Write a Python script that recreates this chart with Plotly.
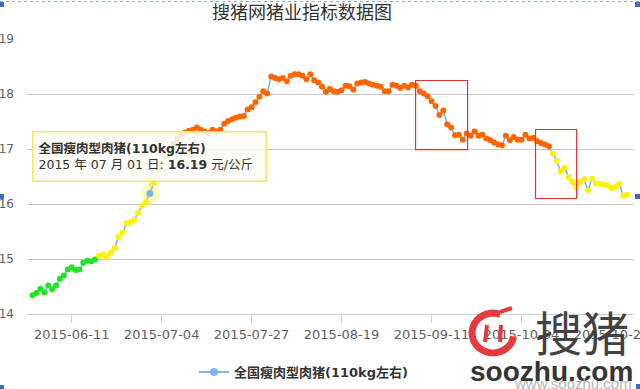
import math
import pandas as pd
import plotly.graph_objects as go

# ---------------- data ----------------
title_text = "搜猪网猪业指标数据图"
series_name = "全国瘦肉型肉猪(110kg左右)"
unit_text = "元/公斤"
start_date = "2015-06-01"

prices = [
    14.34, 14.38, 14.46, 14.39, 14.52, 14.45, 14.52, 14.64, 14.70, 14.81,
    14.85, 14.80, 14.81, 14.93, 14.97, 14.96, 14.99, 15.06, 15.08, 15.03,
    15.12, 15.20, 15.40, 15.48, 15.65, 15.67, 15.71, 15.84, 15.97, 16.03,
    16.19, 16.38, 16.59, 16.75, 16.88, 16.97, 17.10, 17.19, 17.27, 17.30,
    17.33, 17.35, 17.39, 17.35, 17.32, 17.29, 17.35, 17.32, 17.35, 17.46,
    17.51, 17.54, 17.57, 17.59, 17.60, 17.72, 17.76, 17.85, 17.95, 18.05,
    18.01, 18.32, 18.29, 18.27, 18.29, 18.23, 18.33, 18.36, 18.36, 18.33,
    18.27, 18.36, 18.25, 18.21, 18.13, 18.04, 18.09, 18.05, 18.04, 18.07,
    18.15, 18.14, 18.08, 18.19, 18.21, 18.22, 18.19, 18.17, 18.15, 18.13,
    18.05, 18.05, 18.17, 18.15, 18.11, 18.15, 18.12, 18.17, 18.15, 18.05,
    18.01, 17.96, 17.87, 17.78, 17.62, 17.70, 17.45, 17.39, 17.25, 17.26,
    17.17, 17.28, 17.24, 17.32, 17.24, 17.26, 17.19, 17.16, 17.12, 17.08,
    17.07, 17.24, 17.16, 17.22, 17.17, 17.17, 17.26, 17.19, 17.20, 17.14,
    17.11, 17.08, 17.05, 16.92, 16.78, 16.59, 16.66, 16.49, 16.40, 16.30,
    16.40, 16.45, 16.25, 16.46, 16.37, 16.37, 16.35, 16.34, 16.28, 16.31,
    16.37, 16.15, 16.17,
]
dates = pd.date_range(start_date, periods=len(prices), freq="D")

tick_dates = ["2015-06-11", "2015-07-04", "2015-07-27", "2015-08-19",
              "2015-09-11", "2015-10-04", "2015-10-27"]
tick_labels = ["2015-06-11", "2015-07-04", "2015-07-27", "2015-08-19",
               "2015-09-11", "2015-10-04", "2015-10-28"]
y_ticks = [14, 15, 16, 17, 18, 19]

zone_limits = [15, 17]
zone_colors = ["#1ee61e", "#fff200", "#ff6600"]
hover_index = 30

# highlighted ranges (red boxes)
box_ranges = [
    ("2015-09-06 22:00", "2015-09-20 05:00", 16.99, 18.245),
    ("2015-10-07 14:00", "2015-10-18 02:00", 16.10, 17.355),
]

# ---------------- layout helpers ----------------
W, H = 640, 389
ML, MR, MT, MB = 27, 6, 39, 75
PW, PH = W - ML - MR, H - MT - MB
MIXED_FONT = "DejaVu Sans, Noto Sans CJK SC"


def px(x):
    return (x - ML) / PW


def py(y):
    return (H - MB - y) / PH


def zone_color(v):
    if v < zone_limits[0]:
        return zone_colors[0]
    if v < zone_limits[1]:
        return zone_colors[1]
    return zone_colors[2]


marker_colors = [zone_color(v) for v in prices]
line_blue = "#7cb5ec"

fig = go.Figure()

fig.add_trace(go.Scatter(
    x=dates, y=prices, mode="lines",
    line=dict(color=line_blue, width=1.6),
    showlegend=False, hoverinfo="skip",
))
fig.add_trace(go.Scatter(
    x=dates, y=prices, mode="markers",
    marker=dict(color=marker_colors, size=6, line=dict(width=0)),
    showlegend=False, hoverinfo="skip",
))
# hovered point halo + marker
hx, hy = dates[hover_index], prices[hover_index]
fig.add_trace(go.Scatter(
    x=[hx], y=[hy], mode="markers",
    marker=dict(color="rgba(255,245,0,0.28)", size=19, line=dict(width=0)),
    showlegend=False, hoverinfo="skip",
))
fig.add_trace(go.Scatter(
    x=[hx], y=[hy], mode="markers",
    marker=dict(color=line_blue, size=7, line=dict(width=0)),
    showlegend=False, hoverinfo="skip",
))
# legend entry
fig.add_trace(go.Scatter(
    x=[None], y=[None], mode="lines+markers", name=series_name,
    line=dict(color=line_blue, width=2),
    marker=dict(color=line_blue, size=8),
))

shapes = []
for x0, x1, y0, y1 in box_ranges:
    shapes.append(dict(type="rect", xref="x", yref="y", x0=x0, x1=x1, y0=y0, y1=y1,
                       line=dict(color="rgb(225,50,50)", width=1.2),
                       fillcolor="rgba(0,0,0,0)", layer="above"))

# watermark red logo (approximate brush ring)
cx, cy, r = 493, 333, 21
pts = []
for k in range(0, 29):
    a = math.radians(70 + k * 10)
    pts.append((cx + r * math.cos(a), cy - r * 0.95 * math.sin(a)))
path = "M" + " L".join(f"{px(x):.4f},{py(y):.4f}" for x, y in pts)
shapes.append(dict(type="path", xref="paper", yref="paper", path=path,
                   line=dict(color="#e63a3f", width=7), layer="above"))
for (x0, y0, x1, y1) in [(487, 325, 485, 342), (501, 325, 500, 342), (500, 312, 512, 308)]:
    shapes.append(dict(type="line", xref="paper", yref="paper",
                       x0=px(x0), y0=py(y0), x1=px(x1), y1=py(y1),
                       line=dict(color="#e63a3f", width=4), layer="above"))

# selection handles and dotted top border
shapes.append(dict(type="line", xref="paper", yref="paper",
                   x0=px(0), x1=px(640), y0=py(1.5), y1=py(1.5),
                   line=dict(color="#8fb0d8", width=1, dash="dot"), layer="above"))
for (x0, y0, x1, y1) in [(0, 2, 4, 7), (0, 194, 4, 199), (635, 2, 640, 7),
                         (635, 194, 640, 199), (0, 385, 4, 389), (636, 384, 640, 389)]:
    shapes.append(dict(type="rect", xref="paper", yref="paper",
                       x0=px(x0), x1=px(x1), y0=py(y1), y1=py(y0),
                       line=dict(width=0), fillcolor="#3a6db5", layer="above"))

tooltip_text = (f"<b>{series_name}</b><br>"
                f"{hx.year} 年 {hx.month:02d} 月 {hx.day:02d} 日: "
                f"<b>{hy:.2f}</b> {unit_text}")

annotations = [
    dict(x=hx, y=hy, xref="x", yref="y", text=tooltip_text, showarrow=True,
         ax=0, ay=-37, arrowhead=0, arrowwidth=1.5, arrowcolor="rgb(238,230,80)",
         standoff=7, align="left", width=222, height=38, borderpad=5,
         bgcolor="rgba(252,252,246,0.86)", bordercolor="rgb(238,232,100)",
         borderwidth=1.5,
         font=dict(family=MIXED_FONT, size=12.5, color="#333333")),
    dict(x=px(582), y=py(330), xref="paper", yref="paper", text="搜猪",
         xanchor="center", yanchor="middle", showarrow=False,
         font=dict(family="Noto Sans CJK SC", size=47, color="#424242")),
    dict(x=px(551), y=py(371), xref="paper", yref="paper", text="<b>soozhu.com</b>",
         xanchor="center", yanchor="middle", showarrow=False,
         font=dict(family="Liberation Sans", size=28, color="#353535")),
    dict(x=px(573), y=py(384), xref="paper", yref="paper", text="www.soozhu.com",
         xanchor="center", yanchor="middle", showarrow=False,
         font=dict(family="Liberation Sans", size=15, color="#b4b4b4")),
]

fig.update_layout(
    width=W, height=H,
    margin=dict(l=ML, r=MR, t=MT, b=MB, autoexpand=False),
    paper_bgcolor="white", plot_bgcolor="white",
    title=dict(text=title_text, xref="container", yref="container",
               x=302 / W, y=1 - 13 / H, xanchor="center", yanchor="middle",
               font=dict(family="Noto Sans CJK SC", size=18, color="#333333")),
    xaxis=dict(type="date", automargin=False,
               range=["2015-05-30 14:00", "2015-11-01 18:00"],
               tickmode="array", tickvals=tick_dates, ticktext=tick_labels,
               ticklabeloverflow="allow",
               showgrid=False, zeroline=False,
               showline=True, linecolor="#C0D0E0", linewidth=1,
               ticks="outside", ticklen=8, tickcolor="#C0D0E0",
               tickfont=dict(family="DejaVu Sans", size=13, color="#606060")),
    yaxis=dict(range=[14, 19], tickmode="array", tickvals=y_ticks, automargin=False,
               showgrid=True, gridcolor="#C8C8C8", gridwidth=1,
               zeroline=False, showline=False, ticks="",
               ticklabelstandoff=12, ticklabeloverflow="allow",
               tickfont=dict(family="DejaVu Sans", size=12, color="#606060")),
    showlegend=True,
    legend=dict(orientation="h", xref="container", yref="container",
                x=194 / W, y=1 - 372 / H, xanchor="left", yanchor="middle",
                bgcolor="rgba(0,0,0,0)",
                font=dict(family=MIXED_FONT, size=13, color="#333333", weight="bold")),
    shapes=shapes,
    annotations=annotations,
    hovermode=False,
)

fig.write_html("out.html")
